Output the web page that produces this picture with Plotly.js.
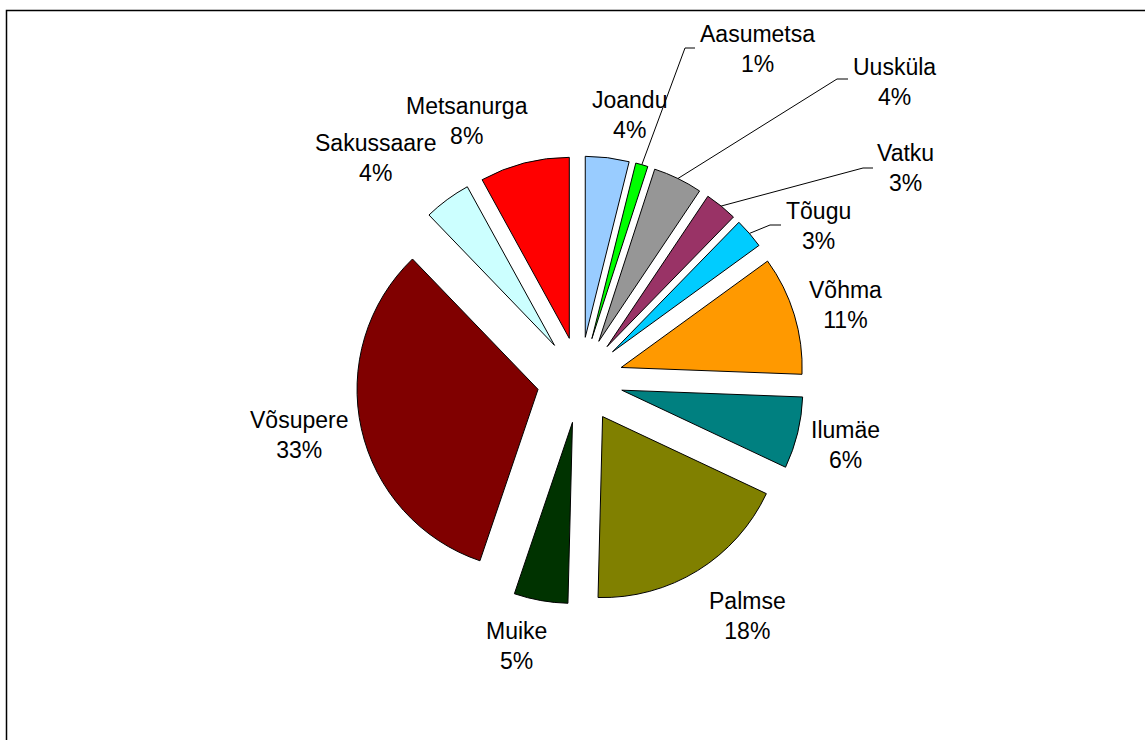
<!DOCTYPE html>
<html>
<head>
<meta charset="utf-8">
<script src="https://cdn.plot.ly/plotly-3.0.1.min.js"></script>
<style>html,body{margin:0;padding:0;background:#fff;}#chart{width:1145px;height:740px;}</style>
</head>
<body>
<div id="chart"></div>
<script>
// ---- data (shares in %; labels show them rounded) ----
const labels = ["Joandu", "Aasumetsa", "Uusküla", "Vatku", "Tõugu", "Võhma", "Ilumäe", "Palmse", "Muike", "Võsupere", "Sakussaare", "Metsanurga"];
const shares = [3.9, 1.1, 4.4, 2.9, 2.7, 10.6, 6.4, 18.4, 4.8, 32.6, 4.2, 8.0];
const colors = ["#99CCFF", "#00FF00", "#969696", "#993366", "#00CCFF", "#FF9900", "#008080", "#808000", "#003300", "#800000", "#CCFFFF", "#FF0000"];

// ---- layout / style settings (pixel positions of label centres, leader elbows) ----
const W = 1145, H = 740;
const PULL = 0.2376;
const DOM_X = [0.3109, 0.7022];
const DOM_Y = [0.1838, 0.7892];
const FONT = { family: "Liberation Sans, Arial, sans-serif", size: 23, color: "#000000" };
const labelPos = [
  [629, 115], [757, 49], [894, 82], [905, 168], [818, 226], [845, 305],
  [845, 445], [748, 616], [516, 646], [299, 435], [375, 158], [467, 121]
];
// leader line: [elbow x, elbow y, end x] (null = no leader)
const leaders = [null, [685, 48, 695], [837, 79, 848], [863, 168, 873], [770, 225, 781],
  null, null, null, null, null, null, null];

// ---- geometry of slices (for leader line anchors) ----
const total = shares.reduce((a, b) => a + b, 0);
const cx = W * (DOM_X[0] + DOM_X[1]) / 2;
const cy = H * (1 - (DOM_Y[0] + DOM_Y[1]) / 2);
const rOuter = Math.min(W * (DOM_X[1] - DOM_X[0]), H * (DOM_Y[1] - DOM_Y[0])) / 2;
const px2x = v => v / W;
const px2y = v => 1 - v / H;

const annotations = [];
const shapes = [{
  type: "rect", xref: "paper", yref: "paper",
  x0: px2x(6.5), x1: 1.02, y0: -0.02, y1: px2y(10.5),
  line: { color: "#000000", width: 1.5 }
}];

let cum = 0;
labels.forEach((lab, i) => {
  const mid = 2 * Math.PI * (cum + shares[i] / 2) / total;
  cum += shares[i];
  annotations.push({
    xref: "paper", yref: "paper",
    x: px2x(labelPos[i][0]), y: px2y(labelPos[i][1]),
    xanchor: "center", yanchor: "middle",
    text: lab + "<br>" + Math.round(100 * shares[i] / total) + "%",
    showarrow: false, font: FONT
  });
  if (leaders[i]) {
    const tx = cx + rOuter * Math.sin(mid);
    const ty = cy - rOuter * Math.cos(mid);
    const [ex, ey, endx] = leaders[i];
    shapes.push({
      type: "path", xref: "paper", yref: "paper",
      path: "M " + px2x(tx) + "," + px2y(ty) + " L " + px2x(ex) + "," + px2y(ey) + " L " + px2x(endx) + "," + px2y(ey),
      line: { color: "#000000", width: 1 }
    });
  }
});

const trace = {
  type: "pie",
  labels: labels,
  values: shares,
  sort: false,
  direction: "clockwise",
  rotation: 0,
  pull: shares.map(() => PULL),
  marker: { colors: colors, line: { color: "#000000", width: 1 } },
  textinfo: "none",
  hoverinfo: "none",
  domain: { x: DOM_X, y: DOM_Y },
  showlegend: false
};

const layout = {
  width: W,
  height: H,
  margin: { l: 0, r: 0, t: 0, b: 0 },
  paper_bgcolor: "#ffffff",
  plot_bgcolor: "#ffffff",
  showlegend: false,
  annotations: annotations,
  shapes: shapes
};

Plotly.newPlot("chart", [trace], layout, { staticPlot: true });
</script>
</body>
</html>
